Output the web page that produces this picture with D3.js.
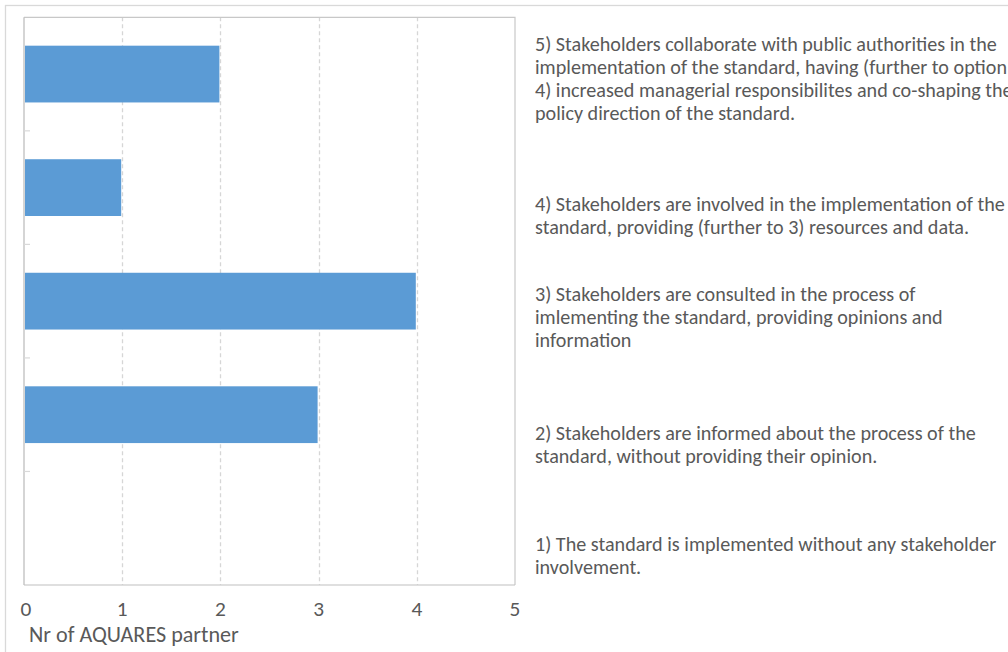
<!DOCTYPE html>
<html>
<head>
<meta charset="utf-8">
<script src="https://cdn.jsdelivr.net/npm/d3@7"></script>
<style>
  html, body { margin: 0; padding: 0; background: #fff; overflow: hidden; }
  svg { display: block; }
</style>
</head>
<body>
<script>
// Participation levels, top to bottom as drawn
const categories = ["5", "4", "3", "2", "1"];
const partners = [2, 1, 4, 3, 0];
const descriptions = [
  ["5) Stakeholders collaborate with public authorities in the",
   "implementation of the standard, having (further to option",
   "4) increased managerial responsibilites and co-shaping the",
   "policy direction of the standard."],
  ["4) Stakeholders are involved in the implementation of the",
   "standard, providing (further to 3) resources and data."],
  ["3) Stakeholders are consulted in the process of",
   "imlementing the standard, providing opinions and",
   "information"],
  ["2) Stakeholders are informed about the process of the",
   "standard, without providing their opinion."],
  ["1) The standard is implemented without any stakeholder",
   "involvement."]
];
const xTicks = [0, 1, 2, 3, 4, 5];
const xTitle = "Nr of AQUARES partner";

const W = 1008, H = 652;
const plot = { left: 24, right: 515, top: 17.3, bottom: 585 };
const FONT = "Carlito, 'Liberation Sans', Arial, sans-serif";
const TEXT = "#595959";

const svg = d3.select("body").append("svg")
  .attr("width", W).attr("height", H);

// Outer chart frame
svg.append("rect")
  .attr("x", 5.5).attr("y", 5.5)
  .attr("width", W + 10).attr("height", H + 10)
  .attr("fill", "#fff").attr("stroke", "#d9d9d9").attr("stroke-width", 1.3);

const x = d3.scaleLinear().domain([0, 5]).range([plot.left, plot.right]);
const y = d3.scaleBand().domain(categories)
  .range([plot.top, plot.bottom]).paddingInner(0.5).paddingOuter(0.25);
const band = d3.scaleBand().domain(categories).range([plot.top, plot.bottom]);

// Dashed vertical gridlines
svg.append("g").selectAll("line")
  .data(xTicks.filter(t => t > 0 && t < 5))
  .join("line")
  .attr("x1", d => Math.round(x(d)) + 0.5).attr("x2", d => Math.round(x(d)) + 0.5)
  .attr("y1", plot.top).attr("y2", plot.bottom)
  .attr("stroke", "#d6d6d6").attr("stroke-width", 1.3)
  .attr("stroke-dasharray", "4,3");

// Plot area border (top and right)
svg.append("path")
  .attr("d", `M${plot.left},${plot.top}H${plot.right}V${plot.bottom}`)
  .attr("fill", "none").attr("stroke", "#c8c8c8").attr("stroke-width", 1.2);

// Bars
svg.append("g").selectAll("rect")
  .data(categories.map((c, i) => ({ c, v: partners[i] })))
  .join("rect")
  .attr("x", x(0) + 1)
  .attr("y", d => y(d.c))
  .attr("width", d => Math.max(0, x(d.v) - x(0) - 2))
  .attr("height", y.bandwidth())
  .attr("fill", "#5b9bd5");

// Category axis on the left, ticks pointing into the plot
const yAxis = svg.append("g")
  .attr("transform", `translate(${plot.left},0)`);
yAxis.append("line")
  .attr("x1", 0).attr("x2", 0).attr("y1", plot.top).attr("y2", plot.bottom)
  .attr("stroke", "#bfbfbf").attr("stroke-width", 1.3);
yAxis.selectAll("line.tick")
  .data(categories.slice(1))
  .join("line").attr("class", "tick")
  .attr("x1", 0).attr("x2", 6)
  .attr("y1", d => band(d)).attr("y2", d => band(d))
  .attr("stroke", "#d9d9d9").attr("stroke-width", 1.2);

// Value axis baseline
svg.append("line")
  .attr("x1", plot.left).attr("x2", plot.right)
  .attr("y1", plot.bottom).attr("y2", plot.bottom)
  .attr("stroke", "#bfbfbf").attr("stroke-width", 1.2);

// Font size that makes a string span a target width
function fitSize(str, target) {
  const t = svg.append("text").attr("font-family", FONT)
    .attr("font-size", 100).text(str);
  const w = t.node().getComputedTextLength();
  t.remove();
  return 100 * target / w;
}

const descSize = fitSize(descriptions[0][0], 462);
const tickSize = descSize * 1.06;
const titleSize = fitSize(xTitle, 210);

// Value axis tick labels
svg.append("g").selectAll("text")
  .data(xTicks)
  .join("text")
  .attr("x", d => x(d) + (d === 0 ? 2 : 0))
  .attr("y", 616)
  .attr("text-anchor", "middle")
  .attr("font-family", FONT).attr("font-size", tickSize)
  .attr("fill", TEXT)
  .text(d => d);

svg.append("text")
  .attr("x", 29).attr("y", 641.5)
  .attr("font-family", FONT).attr("font-size", titleSize)
  .attr("fill", TEXT)
  .text(xTitle);

// Level descriptions to the right of the plot
const descBaseline = [33.4, 79.7, 56.7, 81.7, 79.7];
const lineHeight = 23;
const desc = svg.append("g");
categories.forEach((c, i) => {
  const t = desc.append("text")
    .attr("font-family", FONT).attr("font-size", descSize)
    .attr("fill", TEXT);
  descriptions[i].forEach((line, j) => {
    t.append("tspan")
      .attr("x", 535)
      .attr("y", band(c) + descBaseline[i] + j * lineHeight)
      .text(line);
  });
});
</script>
</body>
</html>
